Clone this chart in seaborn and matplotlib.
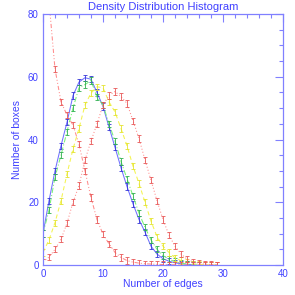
import numpy as np
import pandas as pd
import matplotlib
matplotlib.use("Agg")
import matplotlib.pyplot as plt
import seaborn as sns

# number of edges per box
edges_blue = list(range(0, 26))
boxes_blue = [10, 20.5, 30, 38, 45.5, 54, 58.3, 59.7, 59.2, 55, 50.5, 44, 37.5, 31,
              25, 19.5, 14.5, 10.5, 6, 3.5, 2, 1.2, 0.7, 0.4, 0.2, 0.1]

edges_green = list(range(0, 27))
boxes_green = [10, 17.5, 28, 35, 42.5, 50, 56.5, 57.5, 58.8, 53.5, 51, 45, 39.5, 33,
               27.5, 22, 16.5, 12, 8, 5, 3, 1.8, 1.1, 0.6, 0.3, 0.15, 0.1]

edges_yellow = list(range(0, 30))
boxes_yellow = [4, 8, 13.5, 20.5, 29, 37, 43.5, 51, 54.8, 56.8, 56.5, 52, 48.8, 43.5,
                38, 31.5, 26, 20, 14, 9, 6, 4, 2.3, 1.4, 0.8, 0.4, 0.2, 0.1, 0.05, 0.02]

edges_red = list(range(0, 30))
boxes_red = [1, 2.5, 5, 8.2, 13.3, 20, 25.3, 33.5, 39.5, 45, 51, 54, 55.3, 53.7,
             51.5, 46, 40.3, 33.5, 27, 20.5, 14.5, 9.5, 6, 3.5, 1.9, 1, 0.5, 0.3, 0.15, 0.05]

edges_decay = list(range(0, 30))
boxes_decay = [110, 84, 62.5, 52, 47.8, 44.6, 38.5, 30, 21.5, 14.5, 9.8, 6.8, 4, 2.4,
               1.4, 0.9, 0.6, 0.4, 0.3, 0.2, 0.15, 0.1, 0.1, 0.05, 0.05, 0.03, 0.02, 0.01, 0.01, 0.0]

err = 1.0  # approx half-height of the error bars

series = [
    (edges_blue, boxes_blue, "#7070ff", "#3535d8", "-"),
    (edges_green, boxes_green, "#78f078", "#30b050", (0, (5, 2, 1, 2))),
    (edges_yellow, boxes_yellow, "#f4f450", "#e4e430", (0, (4, 3))),
    (edges_red, boxes_red, "#ff8c8c", "#e85858", (0, (1, 2))),
    (edges_decay, boxes_decay, "#ff8c8c", "#e85858", (0, (4, 2, 1, 2, 1, 2))),
]

axis_blue = "#8080ff"
text_blue = "#4040ff"

sns.set_style("white")
plt.rcParams["font.family"] = ["Liberation Sans", "DejaVu Sans"]

fig = plt.figure(figsize=(2.95, 2.95), dpi=100)
ax = fig.add_axes([43 / 295, 30 / 295, 240 / 295, 251 / 295])

for xs, ys, c, ec, ls in series:
    df = pd.DataFrame({"x": xs, "y": ys})
    sns.lineplot(data=df, x="x", y="y", color=c, linestyle=ls, linewidth=0.75, ax=ax)
    ax.errorbar(xs, ys, yerr=err, fmt="none", ecolor=ec, elinewidth=0.6,
                capsize=1.5, capthick=0.6)

ax.set_xlim(0, 40)
ax.set_ylim(0, 80)
ax.set_xticks([0, 10, 20, 30, 40])
ax.set_yticks([0, 20, 40, 60, 80])
ax.set_xticks(np.arange(0, 41, 2), minor=True)
ax.set_yticks(np.arange(0, 81, 5), minor=True)
ax.tick_params(which="both", direction="in", top=True, right=True, colors=axis_blue,
               labelcolor=text_blue, labelsize=7, pad=3)
ax.tick_params(which="major", length=6, width=0.8)
ax.tick_params(which="minor", length=3, width=0.8)
for s in ax.spines.values():
    s.set_color(axis_blue)
    s.set_linewidth(0.9)

ax.set_xlabel("Number of edges", color=text_blue, fontsize=7.5, labelpad=0)
ax.set_ylabel("Number of boxes", color=text_blue, fontsize=7.5, labelpad=4)
ax.set_title("Density Distribution Histogram", color=text_blue, fontsize=8, pad=3)

fig.savefig("out.png", dpi=100)
